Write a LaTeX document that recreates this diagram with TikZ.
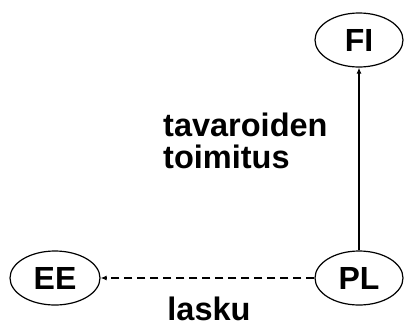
\documentclass[tikz,border=0pt]{standalone}
\usepackage{fontspec}
\setmainfont{Liberation Sans}
\usetikzlibrary{arrows.meta,shapes.geometric}
\begin{document}
\begin{tikzpicture}[x=1pt,y=-1pt,
  country/.style={draw, ellipse, line width=1.2pt, minimum width=88pt, minimum height=54pt, inner sep=0pt, font=\fontsize{32}{32}\selectfont\bfseries},
  lbl/.style={inner sep=0pt, font=\fontsize{32.5}{32}\selectfont\bfseries, align=left},
  flow/.style={line width=1.3pt, -{Latex[length=6pt,width=5pt]}}]
\useasboundingbox (0,0) rectangle (406,327);
\node[country] (FI) at (359,40) {FI};
\node[country] (PL) at (359,278) {PL};
\node[country, minimum width=90pt] (EE) at (55,278) {EE};
\draw[flow] (PL) -- (FI);
\draw[flow, dash pattern=on 8pt off 5pt] (PL) -- (EE);
\node[lbl, anchor=base west] (goods) at (163,168) {tavaroiden\\toimitus};
\node[lbl, anchor=base] (inv) at (209,320) {lasku};
\end{tikzpicture}
\end{document}
